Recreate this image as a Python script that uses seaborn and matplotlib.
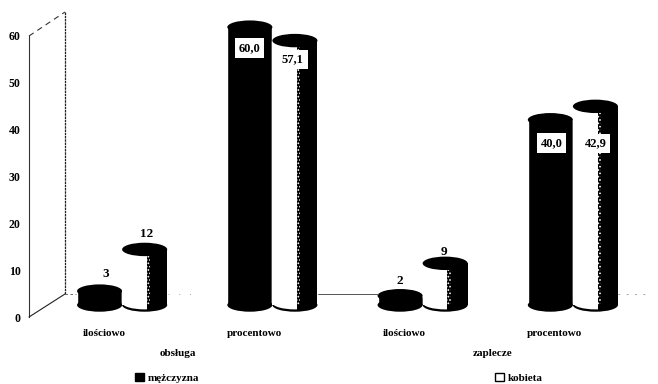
import matplotlib
matplotlib.use('Agg')
import matplotlib.pyplot as plt
from matplotlib.lines import Line2D
from matplotlib.patches import Ellipse, Patch, Rectangle
import pandas as pd
import seaborn as sns

categories = ['ilościowo', 'procentowo', 'ilościowo ', 'procentowo ']
men = [3, 60.0, 2, 40.0]
women = [12, 57.1, 9, 42.9]
men_labels = ['3', '60,0', '2', '40,0']
women_labels = ['12', '57,1', '9', '42,9']
groups = ['obsługa', 'zaplecze']
series = ['mężczyzna', 'kobieta']
y_ticks = [0, 10, 20, 30, 40, 50, 60]

# label offsets from the top of each bar, in pixels
men_offsets = [(6, 17), (0, -21), (0, 15), (1, -23)]
women_offsets = [(2, 15), (-2, -19), (-1, 11), (0, -37)]

W, H = 658, 384

sns.set_theme(style='white')
plt.rcParams['font.family'] = ['Liberation Serif', 'DejaVu Serif']
plt.rcParams['font.weight'] = 'bold'
plt.rcParams['font.size'] = 8
plt.rcParams['hatch.linewidth'] = 0.8


def px_box(left, right, top, bottom):
  return [left / W, 1 - bottom / H, (right - left) / W, (bottom - top) / H]


df = pd.DataFrame({
  'cat': categories * 2,
  'value': men + women,
  'series': [series[0]] * 4 + [series[1]] * 4,
})

fig = plt.figure(figsize=(W / 100, H / 100), dpi=100)

# front plane: value axis and category labels
ax = fig.add_axes(px_box(29, 629, 36, 317))
ax.patch.set_alpha(0)
ax.set_xlim(-0.5, 3.5)
ax.set_ylim(0, 60)
ax.set_yticks(y_ticks)
ax.set_xticks(range(4))
ax.set_xticklabels([c.strip() for c in categories])
ax.tick_params(axis='y', length=0, pad=6, labelsize=8.5, colors='black')
ax.tick_params(axis='x', length=0, pad=9, labelsize=8, colors='black')
for s in ['top', 'right', 'bottom']:
  ax.spines[s].set_visible(False)
ax.spines['left'].set_color('#333333')
ax.spines['left'].set_linewidth(0.8)
for lab in ax.get_xticklabels() + ax.get_yticklabels():
  lab.set_fontweight('bold')


def wall(xs, ys, **kw):
  fig.add_artist(Line2D([x / W for x in xs], [1 - y / H for y in ys], **kw))


# back wall and floor edges
wall([65, 65], [12, 294], color='#222222', lw=0.9, ls=(0, (2, 0.6)))
wall([29, 65], [36, 12], color='#333333', lw=0.8, ls=(0, (5, 4)))
wall([29, 65], [317, 294], color='#222222', lw=0.8)
wall([65, 76], [294, 294], color='#555555', lw=0.6, ls=(0, (3, 3)))
wall([318, 378], [294, 294], color='#555555', lw=0.7)
wall([168, 198], [294, 294], color='#888888', lw=0.6, ls=(0, (1, 12)))
wall([618, 650], [294, 294], color='#888888', lw=0.6, ls=(0, (2, 8)))

# bars sit on the floor behind the front plane
bx = fig.add_axes(px_box(47, 648, 4, 305))
bx.patch.set_alpha(0)
sns.barplot(data=df, x='cat', y='value', hue='series', palette=['black', 'white'],
            saturation=1, width=0.6, gap=0, legend=False, ax=bx, zorder=3)
bx.set_xlim(-0.5, 3.5)
bx.set_ylim(0, 65)
bx.axis('off')

ell_h = 2.9
for kind, cont in enumerate(bx.containers):
  for b in cont:
    x0, w, top = b.get_x(), b.get_width(), b.get_height()
    xc = x0 + w / 2
    if kind == 0:
      bx.add_patch(Ellipse((xc, 0), w, ell_h, fc='black', ec='none', zorder=3, clip_on=False))
      bx.add_patch(Ellipse((xc, top), w, ell_h, fc='black', ec='none', zorder=3, clip_on=False))
    else:
      bx.add_patch(Ellipse((xc, 0), w, ell_h, fc='black', ec='none', zorder=4, clip_on=False))
      bx.add_patch(Rectangle((x0, 0), w, top, fc='white', ec='none', zorder=4, clip_on=False))
      bx.add_patch(Rectangle((x0 + 0.62 * w, 0), 0.38 * w, top, fc='black', ec='none', zorder=5))
      # speckled edge of the shading
      bx.add_patch(Rectangle((x0 + 0.55 * w, 0), 0.07 * w, top, fc='black', ec='white', lw=0,
                             hatch='.....', zorder=5))
      front = Rectangle((x0, -ell_h), 0.55 * w, ell_h + 1, fc='none', ec='none')
      bx.add_patch(front)
      white_base = Ellipse((xc, 0.5), w, ell_h, fc='white', ec='none', zorder=5, clip_on=True)
      bx.add_patch(white_base)
      white_base.set_clip_path(front)
      bx.add_patch(Ellipse((xc, top), w, ell_h, fc='black', ec='none', zorder=6, clip_on=False))

# data labels: counts above the bars, percentages boxed inside
rows = [(bx.containers[0], men_labels, men_offsets), (bx.containers[1], women_labels, women_offsets)]
for cont, labels, offsets in rows:
  for b, lab, off in zip(cont, labels, offsets):
    xc = b.get_x() + b.get_width() / 2
    top = b.get_height()
    if ',' in lab:
      bx.annotate(lab, (xc, top), xytext=off, textcoords='offset pixels', ha='center', va='center',
                  fontsize=9, fontweight='bold', color='black', zorder=8,
                  bbox=dict(boxstyle='square,pad=0.3', fc='white', ec='none'))
    else:
      bx.annotate(lab, (xc, top), xytext=off, textcoords='offset pixels', ha='center', va='center',
                  fontsize=9.5, fontweight='bold', color='black', zorder=8, annotation_clip=False)

# group captions
fig.text(178 / W, 1 - 354 / H, groups[0], ha='center', va='center', fontsize=8, fontweight='bold', color='black')
fig.text(493 / W, 1 - 354 / H, groups[1], ha='center', va='center', fontsize=8, fontweight='bold', color='black')

handles = [Patch(fc='black', ec='black', label=series[0]), Patch(fc='white', ec='black', lw=1, label=series[1])]
fig.legend(handles=handles, ncol=2, frameon=False, fontsize=8, handlelength=0.85, handleheight=0.8,
           handletextpad=0.3, columnspacing=26.6, loc='center left',
           bbox_to_anchor=(125 / W, 1 - 378 / H), labelcolor='black')

fig.savefig('out.png', dpi=100)
